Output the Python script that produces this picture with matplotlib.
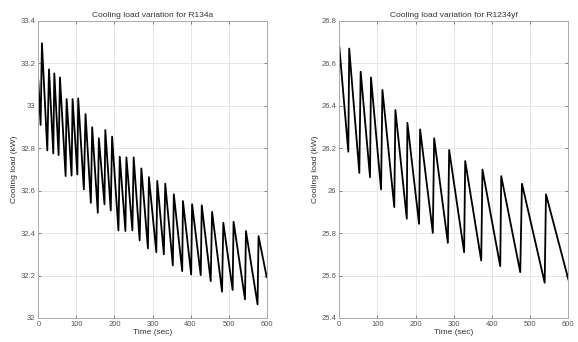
import matplotlib
matplotlib.use("Agg")
import matplotlib.pyplot as plt

plt.rcParams['font.family'] = ['Liberation Sans', 'DejaVu Sans']

# R134a: alternating trough / peak samples
t_134a = [0, 6, 9.5, 23.6, 28, 39.3, 42, 53.3, 56.8, 71.7, 74.3, 87.4, 90,
          102.5, 104.8, 119.6, 124, 138, 141.5, 156.3, 159, 173.8, 176,
          190.3, 193.8, 210.5, 214, 228.8, 231.4, 247.1, 250.5, 266.2, 270.7,
          288, 290.5, 310, 312.5, 329.8, 333.5, 353.4, 356, 378, 380, 401.6,
          404, 426.7, 429.4, 452.9, 456.5, 482.7, 486, 510.5, 513, 543,
          545.5, 576, 578.6, 600]
q_134a = [33.12, 32.91, 33.295, 32.79, 33.172, 32.776, 33.153, 32.768, 33.134,
          32.669, 33.032, 32.671, 33.032, 32.677, 33.035, 32.606, 32.961,
          32.543, 32.899, 32.496, 32.847, 32.536, 32.886, 32.507, 32.855,
          32.413, 32.76, 32.41, 32.757, 32.413, 32.757, 32.366, 32.705,
          32.328, 32.664, 32.31, 32.646, 32.30, 32.633, 32.248, 32.583,
          32.221, 32.551, 32.205, 32.536, 32.202, 32.531, 32.174, 32.50,
          32.124, 32.449, 32.132, 32.454, 32.088, 32.41, 32.064, 32.386,
          32.193]

# R1234yf
t_1234yf = [0, 23.6, 26, 52.5, 56, 80.5, 83, 109.4, 113, 144, 147, 176.8,
            178.4, 209, 211.7, 245, 248.5, 284.4, 287.8, 327, 329.8, 371.8,
            375, 421.6, 424.2, 474, 478.5, 538, 541.4, 600]
q_1234yf = [26.679, 26.184, 26.67, 26.084, 26.561, 26.064, 26.534, 26.006,
            26.475, 25.923, 26.38, 25.868, 26.32, 25.844, 26.289, 25.801,
            26.247, 25.754, 26.192, 25.71, 26.14, 25.671, 26.10, 25.644,
            26.069, 25.616, 26.033, 25.566, 25.983, 25.582]

panels = [
    (t_134a, q_134a, "Cooling load variation for R134a", (32, 33.4)),
    (t_1234yf, q_1234yf, "Cooling load variation for R1234yf", (25.4, 26.8)),
]

fig = plt.figure(figsize=(5.78, 3.42), dpi=100)
rects = [[0.0663, 0.0702, 0.3951, 0.8684], [0.587, 0.0702, 0.3963, 0.8684]]

for rect, (t, q, title, ylim) in zip(rects, panels):
    ax = fig.add_axes(rect)
    ax.plot(t, q, color='black', lw=1.3)
    ax.set_xlim(0, 600)
    ax.set_ylim(*ylim)
    ax.set_xticks(range(0, 601, 100))
    ax.set_yticks([round(ylim[0] + 0.2 * i, 1) for i in range(8)])
    ax.yaxis.set_major_formatter(matplotlib.ticker.FuncFormatter(lambda v, p: f"{v:g}"))
    ax.grid(True, color='#e6e6e6', lw=0.7)
    ax.set_axisbelow(True)
    for s in ax.spines.values():
        s.set_color('#aaaaaa')
        s.set_linewidth(0.7)
    ax.tick_params(labelsize=5.5, colors='#555555', length=2, width=0.5,
                   direction='in', pad=2, top=True, right=True)
    ax.set_title(title, fontsize=6, color='#333333', pad=3)
    ax.set_xlabel("Time (sec)", fontsize=6, color='#333333', labelpad=1)
    ax.set_ylabel("Cooling load (kW)", fontsize=6, color='#333333', labelpad=2)

fig.savefig("out.png", dpi=100)
